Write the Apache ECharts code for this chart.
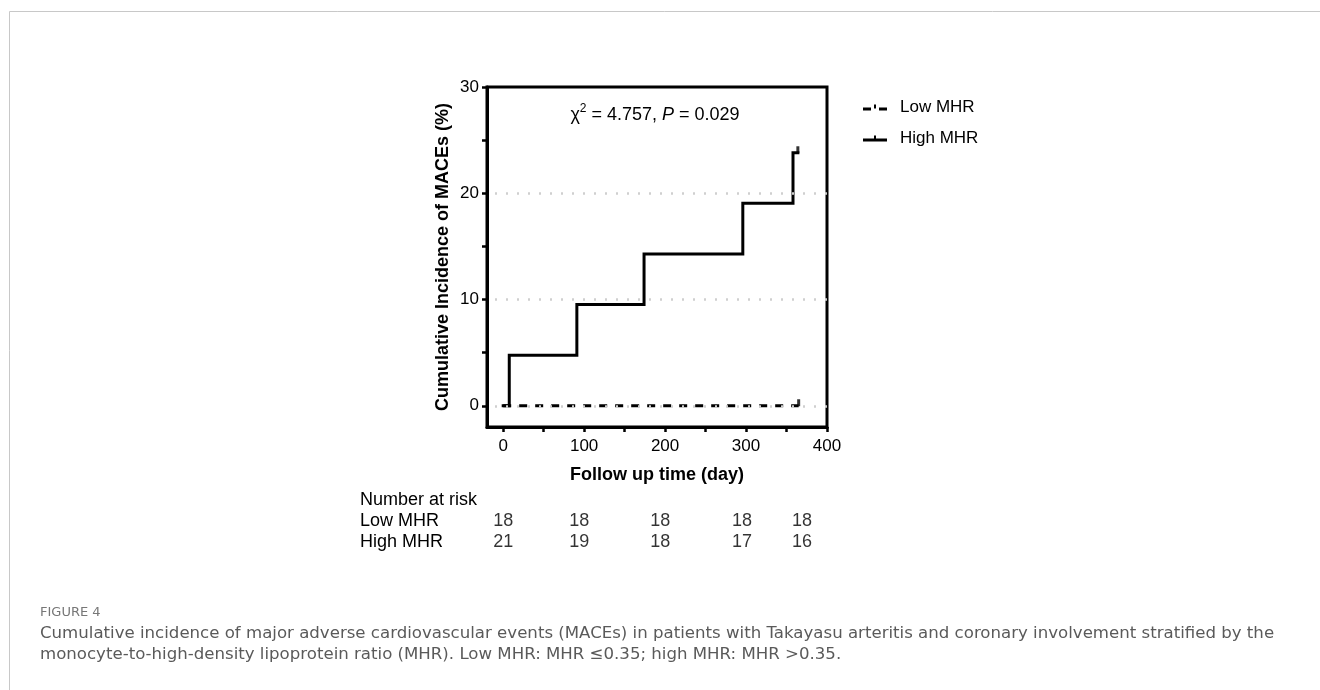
<!DOCTYPE html>
<html><head><meta charset="utf-8">
<script src="https://cdn.jsdelivr.net/npm/echarts@6/dist/echarts.min.js"></script>
<style>html,body{margin:0;padding:0;background:#fff}#c{width:1320px;height:690px}</style>
</head><body><div id="c"></div>
<script>
// ---- data ----
const xTicks = [0, 50, 100, 150, 200, 250, 300, 350, 400];
const xLabels = [0, 100, 200, 300, 400];
const yTicks = [0, 5, 10, 15, 20, 25, 30];
const yLabels = [0, 10, 20, 30];
const gridValues = [0, 10, 20];
const highTimes = [0, 7.5, 91, 174, 296, 358, 364];
const highValues = [0, 4.76, 9.52, 14.29, 19.05, 23.81, 23.81];
const lowTimes = [0, 365];
const lowValues = [0, 0];
const highCensorTimes = [364];
const highCensorValues = [23.81];
const lowCensorTimes = [365];
const lowCensorValues = [0];
const riskTimes = [0, 94, 194, 295, 369];
const riskGroups = ['Low MHR', 'High MHR'];
const lowRisk = [18, 18, 18, 18, 18];
const highRisk = [21, 19, 18, 17, 16];
const statText = ['χ', '2', ' = 4.757, ', 'P', ' = 0.029'];
const captionLines = [
  'Cumulative incidence of major adverse cardiovascular events (MACEs) in patients with Takayasu arteritis and coronary involvement stratified by the',
  'monocyte-to-high-density lipoprotein ratio (MHR). Low MHR: MHR ≤0.35; high MHR: MHR >0.35.'
];

// ---- chart ----
const F = "'Liberation Sans', Arial, sans-serif";
const CF = "'DejaVu Sans', 'Open Sans', sans-serif";
const pair = (xs, ys) => xs.map((x, i) => [x, ys[i]]);
const iconHigh = 'path://M0,3L24,3L24,6L0,6Z M11,0L13,0L13,3L11,3Z';
const iconLow = 'path://M0,3L8,3L8,6L0,6Z M16,3L24,3L24,6L16,6Z M11,0L13,0L13,4L11,4Z';

const chart = echarts.init(document.getElementById('c'), null, {renderer: 'canvas'});
const legendCommon = {
  orient: 'vertical', left: 863, itemWidth: 24, itemHeight: 6, padding: 0,
  textStyle: {fontFamily: F, fontSize: 17, color: '#000', padding: [0, 0, 0, 8]},
  selectedMode: false
};
const riskLabel = {show: true, position: 'inside', formatter: p => p.value[2], fontFamily: F, fontSize: 18, color: '#000'};
chart.setOption({
  animation: false,
  backgroundColor: '#fff',
  legend: [
    Object.assign({}, legendCommon, {top: 99, data: [{name: 'Low MHR', icon: iconLow, itemStyle: {color: '#000', borderWidth: 0}}]}),
    Object.assign({}, legendCommon, {top: 130, data: [{name: 'High MHR', icon: iconHigh, itemStyle: {color: '#000', borderWidth: 0}}]})
  ],
  grid: [
    {left: 487, right: 493, top: 87, bottom: 263, show: true, borderColor: '#000', borderWidth: 3, backgroundColor: 'transparent'},
    {left: 487, right: 493, top: 510.5, height: 42, show: false}
  ],
  xAxis: [{
    type: 'value', gridIndex: 0, min: -20, max: 400,
    name: 'Follow up time (day)', nameLocation: 'middle', nameGap: 39,
    nameTextStyle: {fontFamily: F, fontSize: 18, fontWeight: 'bold', color: '#000'},
    axisLine: {show: true, onZero: false, lineStyle: {color: '#000', width: 3}},
    axisTick: {show: true, customValues: xTicks, length: 5, lineStyle: {color: '#000', width: 2.5}},
    axisLabel: {customValues: xLabels, fontFamily: F, fontSize: 17, color: '#000', margin: 11},
    splitLine: {show: false}
  }, {
    type: 'value', gridIndex: 1, min: -20, max: 400, show: false
  }],
  yAxis: [{
    type: 'value', gridIndex: 0, min: -2, max: 30,
    name: 'Cumulative Incidence of MACEs (%)', nameLocation: 'middle', nameGap: 35,
    nameTextStyle: {fontFamily: F, fontSize: 18, fontWeight: 'bold', color: '#000'},
    axisLine: {show: true, onZero: false, lineStyle: {color: '#000', width: 3}},
    axisTick: {show: true, customValues: yTicks, length: 5, lineStyle: {color: '#000', width: 2.5}},
    axisLabel: {customValues: yLabels, fontFamily: F, fontSize: 17, color: '#000', margin: 8},
    splitLine: {show: false}
  }, {
    type: 'category', gridIndex: 1, data: riskGroups, inverse: true, show: false
  }],
  series: [
    {
      name: 'gridlines', type: 'line', data: [], z: 1, silent: true,
      markLine: {
        silent: true, symbol: 'none', label: {show: false},
        lineStyle: {color: '#cfcfcf', type: [2, 9], width: 2.5, dashOffset: -8},
        data: gridValues.map(v => ({yAxis: v}))
      }
    },
    {
      name: 'Low MHR', type: 'line', data: pair(lowTimes, lowValues), step: 'end', symbol: 'none', z: 3,
      color: '#000', lineStyle: {color: '#000', width: 3, type: [8, 8]}
    },
    {
      name: 'High MHR', type: 'line', data: pair(highTimes, highValues), step: 'end', symbol: 'none', z: 4,
      color: '#000', lineStyle: {color: '#000', width: 3, join: 'miter', cap: 'square'}
    },
    {
      name: 'censorLow', type: 'scatter', data: pair(lowCensorTimes, lowCensorValues), z: 4,
      symbol: 'rect', symbolSize: [3, 7], symbolOffset: [0, -3], itemStyle: {color: '#000'}
    },
    {
      name: 'censorHigh', type: 'scatter', data: pair(highCensorTimes, highCensorValues), z: 4,
      symbol: 'rect', symbolSize: [3, 7], symbolOffset: [0, -3], itemStyle: {color: '#000'}
    },
    {
      name: 'riskLow', type: 'scatter', xAxisIndex: 1, yAxisIndex: 1, symbolSize: 1,
      itemStyle: {color: 'rgba(0,0,0,0)'},
      data: riskTimes.map((t, i) => [t, riskGroups[0], lowRisk[i]]),
      label: riskLabel
    },
    {
      name: 'riskHigh', type: 'scatter', xAxisIndex: 1, yAxisIndex: 1, symbolSize: 1,
      itemStyle: {color: 'rgba(0,0,0,0)'},
      data: riskTimes.map((t, i) => [t, riskGroups[1], highRisk[i]]),
      label: riskLabel
    }
  ],
  graphic: [
    {type: 'line', shape: {x1: 9.5, y1: 11.5, x2: 1320, y2: 11.5}, style: {stroke: '#c8c8c8', lineWidth: 1}, silent: true},
    {type: 'line', shape: {x1: 9.5, y1: 11.5, x2: 9.5, y2: 690}, style: {stroke: '#c8c8c8', lineWidth: 1}, silent: true},
    {
      type: 'text', x: 655, y: 115, silent: true,
      style: {
        text: '{a|' + statText[0] + '}{s|' + statText[1] + '}{a|' + statText[2] + '}{i|' + statText[3] + '}{a|' + statText[4] + '}',
        align: 'center', verticalAlign: 'middle',
        rich: {
          a: {fontFamily: F, fontSize: 18, fill: '#000'},
          i: {fontFamily: F, fontSize: 18, fontStyle: 'italic', fill: '#000'},
          s: {fontFamily: F, fontSize: 12, fill: '#000', padding: [0, 0, 12, 0]}
        }
      }
    },
    {type: 'text', x: 360, y: 500, silent: true, style: {text: 'Number at risk', fontFamily: F, fontSize: 18, fill: '#000', verticalAlign: 'middle'}},
    {type: 'text', x: 360, y: 521, silent: true, style: {text: riskGroups[0], fontFamily: F, fontSize: 18, fill: '#000', verticalAlign: 'middle'}},
    {type: 'text', x: 360, y: 542, silent: true, style: {text: riskGroups[1], fontFamily: F, fontSize: 18, fill: '#000', verticalAlign: 'middle'}},
    {type: 'text', x: 40, y: 613, silent: true, style: {text: 'FIGURE 4', fontFamily: CF, fontSize: 13, fill: '#777', verticalAlign: 'middle'}},
    {type: 'text', x: 40, y: 634, silent: true, style: {text: captionLines[0], fontFamily: CF, fontSize: 16.6, fill: '#5a5a5a', verticalAlign: 'middle'}},
    {type: 'text', x: 40, y: 655, silent: true, style: {text: captionLines[1], fontFamily: CF, fontSize: 16.6, fill: '#5a5a5a', verticalAlign: 'middle'}}
  ]
});
</script></body></html>
